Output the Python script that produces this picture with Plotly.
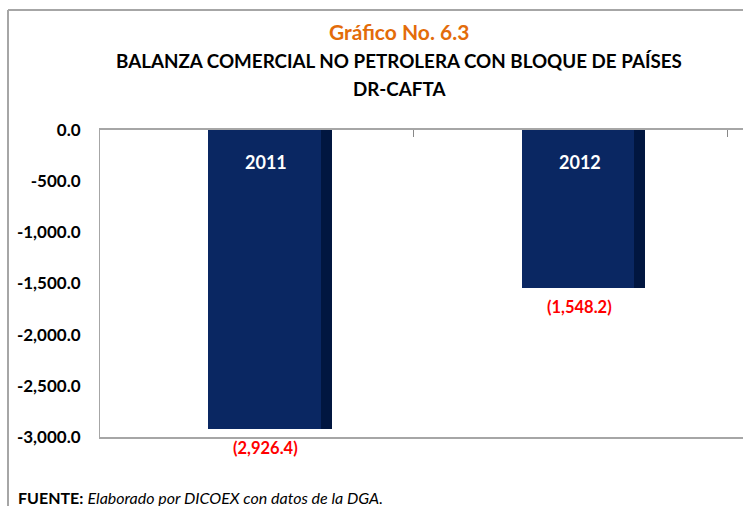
import plotly.graph_objects as go

categories = ["2011", "2012"]
values = [-2926.4, -1548.2]
value_labels = ["(2,926.4)", "(1,548.2)"]
tick_vals = [0, -500, -1000, -1500, -2000, -2500, -3000]
tick_text = ["0.0", "-500.0", "-1,000.0", "-1,500.0", "-2,000.0", "-2,500.0", "-3,000.0"]

W, H = 743, 506
L, R, T, B = 100, 0, 130, 69
pw, ph = W - L - R, H - T - B

def px(x):
    return (x - L) / pw

def py(y):
    return (H - B - y) / ph

FONT = "Lato"
bar_w = 0.395
shift = 0.0415
strip_w = 0.035
unit_px = pw / 2.05

fig = go.Figure()
fig.add_trace(go.Bar(
    x=categories, y=values, width=bar_w, offset=-bar_w / 2 + shift,
    marker=dict(color="#0A2762", line=dict(width=0)),
    hoverinfo="skip", showlegend=False,
))
fig.add_trace(go.Bar(
    x=categories, y=values, width=strip_w, offset=bar_w / 2 + shift - strip_w,
    marker=dict(color="#011640", line=dict(width=0)),
    hoverinfo="skip", showlegend=False,
))

for i, (c, v, lab) in enumerate(zip(categories, values, value_labels)):
    fig.add_annotation(x=i, y=0, xref="x", yref="y", xshift=shift * unit_px - 4, yshift=-32,
                       text=f"<b>{c}</b>", showarrow=False, yanchor="middle",
                       font=dict(family=FONT, size=18, color="white"))
    fig.add_annotation(x=i, y=v, xref="x", yref="y", xshift=shift * unit_px - 4, yshift=-19,
                       text=f"<b>{lab}</b>", showarrow=False, yanchor="middle",
                       font=dict(family=FONT, size=16.5, color="#FF0000"))

fig.update_layout(
    width=W, height=H, margin=dict(l=L, r=R, t=T, b=B, autoexpand=False),
    paper_bgcolor="white", plot_bgcolor="white",
    bargap=0, barmode="overlay",
    xaxis=dict(
        type="category", range=[-0.5, 1.55], side="top", showticklabels=False,
        showline=True, linecolor="#A6A6A6", linewidth=2, mirror=True,
        ticks="inside", ticklen=7, tickcolor="#888888", tickwidth=1,
        tickson="boundaries", showgrid=False, zeroline=False, fixedrange=True,
        automargin=False,
    ),
    yaxis=dict(
        range=[-3000, 0], tickvals=tick_vals, ticktext=[f"<b>{t}</b>" for t in tick_text],
        tickfont=dict(family=FONT, size=17, color="black"),
        showline=True, linecolor="#A6A6A6", linewidth=1,
        ticks="", ticklabelstandoff=15, showgrid=False, zeroline=False, fixedrange=True,
        automargin=False,
    ),
    shapes=[
        dict(type="line", xref="paper", yref="paper", x0=px(8), x1=px(8), y0=py(10), y1=py(506),
             line=dict(color="#A6A6A6", width=2)),
        dict(type="line", xref="paper", yref="paper", x0=px(8), x1=px(743), y0=py(10), y1=py(10),
             line=dict(color="#A6A6A6", width=2)),
    ],
)

fig.add_annotation(xref="paper", yref="paper", x=px(399), y=py(31), xanchor="center", yanchor="middle",
                   text="<b>Gráfico No. 6.3</b>",
                   showarrow=False, font=dict(family=FONT, size=21, color="#E36C0A"))
fig.add_annotation(xref="paper", yref="paper", x=px(399), y=py(61), xanchor="center", yanchor="middle",
                   text="<b>BALANZA COMERCIAL NO PETROLERA CON BLOQUE DE PAÍSES</b>",
                   showarrow=False, font=dict(family=FONT, size=18.8, color="black"))
fig.add_annotation(xref="paper", yref="paper", x=px(399), y=py(89), xanchor="center", yanchor="middle",
                   text="<b>DR-CAFTA</b>",
                   showarrow=False, font=dict(family=FONT, size=18.8, color="black"))
fig.add_annotation(xref="paper", yref="paper", x=px(16), y=py(497), xanchor="left", yanchor="middle",
                   text="<b>FUENTE:</b> <i>Elaborado por DICOEX con datos de la DGA.</i>",
                   showarrow=False, font=dict(family=FONT, size=16, color="black"))

fig.write_html("out.html", config={"displayModeBar": False},
               post_script="document.body.style.margin='0';")
